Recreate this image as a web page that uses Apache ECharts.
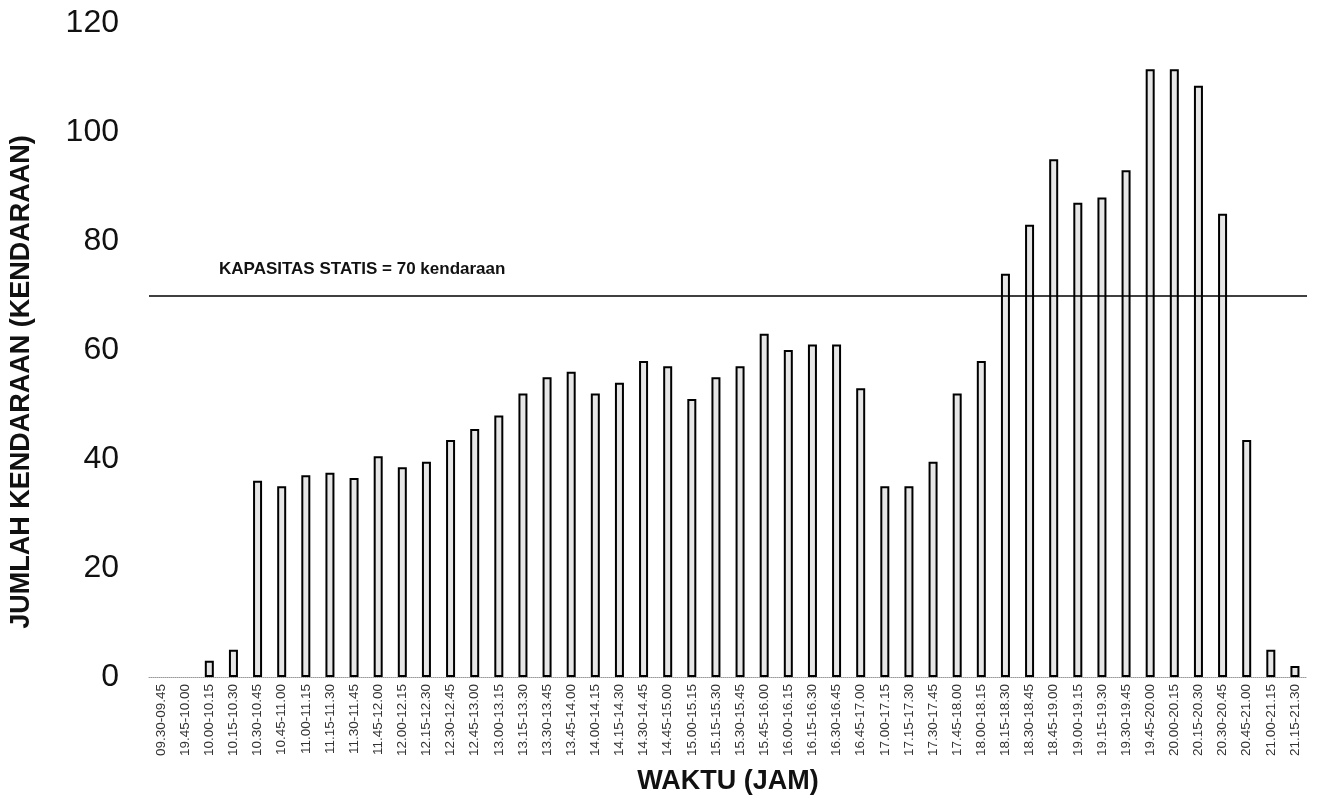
<!DOCTYPE html>
<html>
<head>
<meta charset="utf-8">
<script src="https://cdn.jsdelivr.net/npm/echarts@6/dist/echarts.min.js"></script>
<style>
html,body{margin:0;padding:0;background:#fff;}
#chart{width:1333px;height:803px;}
</style>
</head>
<body>
<div id="chart"></div>
<script>
const categories = [
  "09.30-09.45","19.45-10.00","10.00-10.15","10.15-10.30","10.30-10.45","10.45-11.00",
  "11.00-11.15","11.15-11.30","11.30-11.45","11.45-12.00","12.00-12.15","12.15-12.30",
  "12.30-12.45","12.45-13.00","13.00-13.15","13.15-13.30","13.30-13.45","13.45-14.00",
  "14.00-14.15","14.15-14.30","14.30-14.45","14.45-15.00","15.00-15.15","15.15-15.30",
  "15.30-15.45","15.45-16.00","16.00-16.15","16.15-16.30","16.30-16.45","16.45-17.00",
  "17.00-17.15","17.15-17.30","17.30-17.45","17.45-18.00","18.00-18.15","18.15-18.30",
  "18.30-18.45","18.45-19.00","19.00-19.15","19.15-19.30","19.30-19.45","19.45-20.00",
  "20.00-20.15","20.15-20.30","20.30-20.45","20.45-21.00","21.00-21.15","21.15-21.30"
];
const vehicles = [
  0, 0, 3, 5, 36, 35,
  37, 37.5, 36.5, 40.5, 38.5, 39.5,
  43.5, 45.5, 48, 52, 55, 56,
  52, 54, 58, 57, 51, 55,
  57, 63, 60, 61, 61, 53,
  35, 35, 39.5, 52, 58, 74,
  83, 95, 87, 88, 93, 111.5,
  111.5, 108.5, 85, 43.5, 5, 2
];
const capacity = 70;
const capacityLabel = "KAPASITAS STATIS = 70 kendaraan";
const yTicks = { min: 0, max: 120, interval: 20 };

const FONT = 'Liberation Sans, Arial, sans-serif';
const barData = vehicles.map(v => v === 0
  ? { value: v, itemStyle: { borderWidth: 0, color: 'rgba(0,0,0,0)' } }
  : v);

const chart = echarts.init(document.getElementById('chart'));
chart.setOption({
  backgroundColor: '#ffffff',
  animation: false,
  grid: { left: 147, right: 26, top: 23, bottom: 126 },
  xAxis: {
    type: 'category',
    data: categories,
    name: 'WAKTU (JAM)',
    nameLocation: 'middle',
    nameGap: 91,
    nameTextStyle: { fontFamily: FONT, fontWeight: 'bold', fontSize: 27, color: '#111' },
    axisLine: { show: true, lineStyle: { color: '#999', type: 'dotted', width: 1 } },
    axisTick: { show: false },
    axisLabel: {
      rotate: 90, interval: 0, fontSize: 13.5, color: '#333', margin: 7,
      fontFamily: FONT
    },
    splitLine: { show: false }
  },
  yAxis: {
    type: 'value',
    min: yTicks.min, max: yTicks.max, interval: yTicks.interval,
    name: 'JUMLAH KENDARAAN (KENDARAAN)',
    nameLocation: 'middle',
    nameGap: 114,
    nameTextStyle: { fontFamily: FONT, fontWeight: 'bold', fontSize: 27, color: '#111', padding: [0, 64, 0, 0] },
    axisLine: { show: false },
    axisTick: { show: false },
    axisLabel: { fontSize: 32, color: '#111', margin: 30, fontFamily: FONT },
    splitLine: { show: false }
  },
  series: [{
    type: 'bar',
    data: barData,
    barWidth: 9,
    itemStyle: { color: '#e6e6e6', borderColor: '#000', borderWidth: 2 },
    markLine: {
      symbol: 'none',
      silent: true,
      lineStyle: { color: '#000', width: 1.5, type: 'solid' },
      label: {
        show: true,
        position: 'insideStartTop',
        formatter: capacityLabel,
        fontFamily: FONT,
        fontSize: 17,
        fontWeight: 'bold',
        color: '#111',
        distance: [70, 18]
      },
      data: [{ yAxis: capacity }]
    }
  }]
});
</script>
</body>
</html>
